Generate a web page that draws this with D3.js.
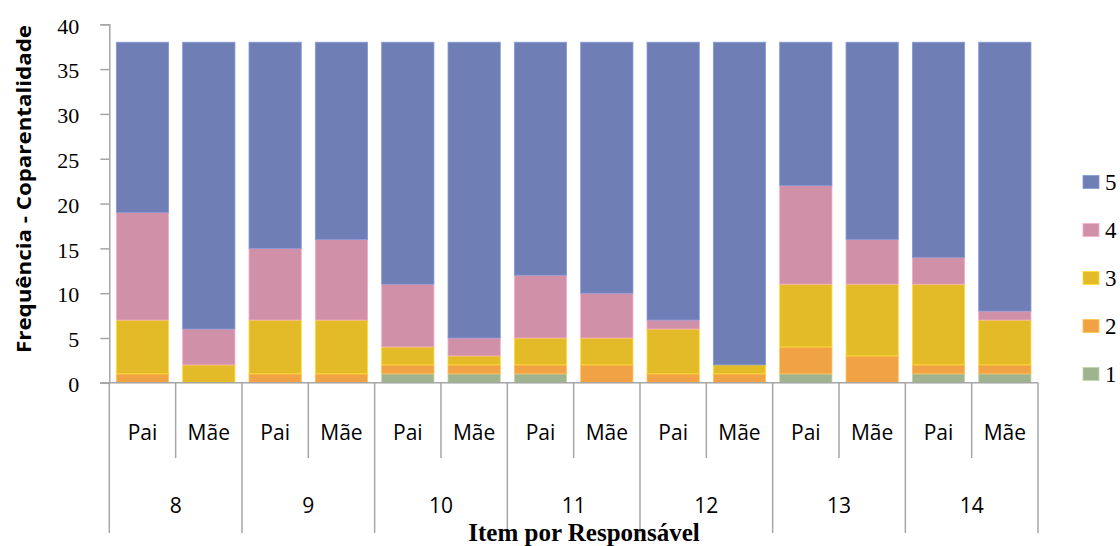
<!DOCTYPE html>
<html><head><meta charset="utf-8">
<script src="https://cdn.jsdelivr.net/npm/d3@7"></script>
<style>html,body{margin:0;padding:0;background:#fff;}svg{display:block;}</style>
</head><body>
<svg id="chart" width="1120" height="546"></svg>
<script>
const items = ["8","9","10","11","12","13","14"];
const responsaveis = ["Pai","Mãe"];
const seriesNames = ["1","2","3","4","5"];
const s1 = [0,0, 0,0, 1,1, 1,0, 0,0, 1,0, 1,1];
const s2 = [1,0, 1,1, 1,1, 1,2, 1,1, 3,3, 1,1];
const s3 = [6,2, 6,6, 2,1, 3,3, 5,1, 7,8, 9,5];
const s4 = [12,4, 8,9, 7,2, 7,5, 1,0, 11,5, 3,1];
const s5 = [19,32, 23,22, 27,33, 26,28, 31,36, 16,22, 24,30];
const yTicks = [0,5,10,15,20,25,30,35,40];
const colors = ["#9fb38e","#f0a245","#e3ba28","#cf90a8","#6f7fb5"];

const seriesVals = [s1,s2,s3,s4,s5];
const rows = [];
items.forEach((it,gi)=>responsaveis.forEach((r,ri)=>{
  const idx = gi*2+ri;
  const row = {key: it+"|"+r, item: it, resp: r};
  seriesNames.forEach((s,si)=>row[s]=seriesVals[si][idx]);
  rows.push(row);
}));

const svg = d3.select("#chart");
const x0 = 109.3, x1 = 1038, yBase = 382.8, yTop = 24.3;
const x = d3.scaleBand().domain(rows.map(d=>d.key)).range([x0,x1]).paddingInner(0.2).paddingOuter(0.1);
const y = d3.scaleLinear().domain([0,40]).range([yBase,yTop]);
const step = x.step();
const axisColor = "#a6a6a6";

const stack = d3.stack().keys(seriesNames)(rows);
svg.append("g").selectAll("g").data(stack).join("g")
  .attr("fill",(d,i)=>colors[i])
  .attr("stroke",(d,i)=>d3.color(colors[i]).brighter(0.5))
  .attr("stroke-width",0.8)
  .selectAll("rect").data(d=>d.filter(p=>p[1]-p[0]>0)).join("rect")
  .attr("x",d=>x(d.data.key)+0.4)
  .attr("width",x.bandwidth()-0.8)
  .attr("y",d=>y(d[1]))
  .attr("height",d=>y(d[0])-y(d[1]));

// Y axis
const yAxis = svg.append("g").attr("transform",`translate(${x0},0)`)
  .call(d3.axisLeft(y).tickValues(yTicks).tickSize(9).tickPadding(21));
yAxis.select(".domain").attr("stroke",axisColor).attr("stroke-width",1.5);
yAxis.selectAll(".tick line").attr("stroke",axisColor).attr("stroke-width",1.5);
yAxis.selectAll(".tick text").attr("font-family","'Liberation Serif', serif")
  .attr("font-size",22).attr("fill","#000").attr("dy","0.4em");

// X axis baseline
svg.append("line").attr("x1",x0-9).attr("x2",x1).attr("y1",yBase).attr("y2",yBase)
  .attr("stroke",axisColor).attr("stroke-width",1.5);
// dividers
d3.range(rows.length+1).forEach(i=>{
  const xx = x0 + i*step;
  svg.append("line").attr("x1",xx).attr("x2",xx).attr("y1",yBase)
    .attr("y2", i%2===0 ? 533 : 458)
    .attr("stroke",axisColor).attr("stroke-width",1.5);
});
// sub labels
svg.append("g").selectAll("text").data(rows).join("text")
  .attr("x",d=>x(d.key)+x.bandwidth()/2).attr("y",439.5)
  .attr("text-anchor","middle").attr("font-family","'Open Sans', sans-serif")
  .attr("font-size",21).attr("fill","#000").text(d=>d.resp);
// group labels
svg.append("g").selectAll("text").data(items).join("text")
  .attr("x",(d,i)=>x0 + (i*2+1)*step).attr("y",512.7)
  .attr("text-anchor","middle").attr("font-family","'Open Sans', sans-serif")
  .attr("font-size",21).attr("fill","#000").text(d=>d);

// axis titles
svg.append("text").attr("x",584).attr("y",541).attr("text-anchor","middle")
  .attr("font-family","'Liberation Serif', serif").attr("font-weight","bold")
  .attr("font-size",25).attr("fill","#000").text("Item por Responsável");
svg.append("text").attr("transform","translate(31,189) rotate(-90)")
  .attr("text-anchor","middle").attr("font-family","'Open Sans', sans-serif")
  .attr("font-weight","bold").attr("font-size",19).attr("fill","#000")
  .attr("textLength",328).attr("lengthAdjust","spacingAndGlyphs")
  .text("Frequência - Coparentalidade");

// legend
const leg = svg.append("g").selectAll("g").data(seriesNames.slice().reverse()).join("g")
  .attr("transform",(d,i)=>`translate(1083,${182 + i*48})`);
leg.append("rect").attr("x",0).attr("y",-6.5).attr("width",16).attr("height",13)
  .attr("fill",d=>colors[+d-1]).attr("stroke",d=>d3.color(colors[+d-1]).brighter(0.5)).attr("stroke-width",0.8);
leg.append("text").attr("x",22).attr("y",0).attr("dy","0.36em")
  .attr("font-family","'Liberation Serif', serif").attr("font-size",23).attr("fill","#000").text(d=>d);
</script>
</body></html>
